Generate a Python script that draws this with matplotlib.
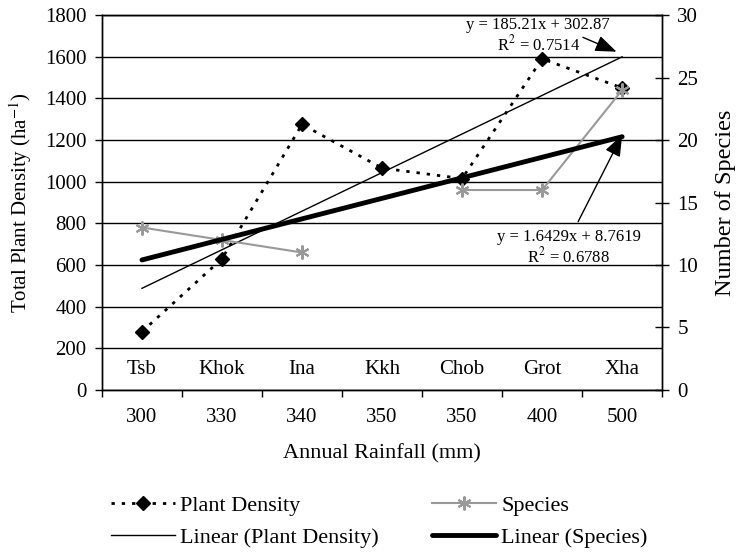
import matplotlib
matplotlib.use("Agg")
import matplotlib.pyplot as plt
import numpy as np

# ---------------------------------------------------------------------------
# DATA
# ---------------------------------------------------------------------------
sites = ["Tsb", "Khok", "Ina", "Kkh", "Chob", "Grot", "Xha"]
rainfall = ["300", "330", "340", "350", "350", "400", "500"]
plant_density = [280, 630, 1275, 1065, 1015, 1590, 1450]
species = [13, 12, 11, np.nan, 16, 16, 24]

# trend line coefficients (as shown on chart)
pd_slope, pd_icpt = 185.21, 302.87
sp_slope, sp_icpt = 1.6429, 8.7619

plt.rcParams["font.family"] = ["Liberation Serif", "DejaVu Serif"]
plt.rcParams["font.size"] = 15
plt.rcParams["mathtext.fontset"] = "stix"

fig = plt.figure(figsize=(7.39, 5.53), dpi=100)
ax = fig.add_axes([0.138, 0.2948, 0.758, 0.678])
ax2 = ax.twinx()

x = np.arange(1, len(sites) + 1)

# ejes y gridlines (eje izquierdo)
ax.set_ylim(0, 1800)
ax.set_yticks(np.arange(0, 1801, 200))
ax.yaxis.grid(True, color="black", linewidth=1)
ax.set_axisbelow(True)
ax2.set_ylim(0, 30)
ax2.set_yticks(np.arange(0, 31, 5))

ax.set_xlim(0.5, len(sites) + 0.5)
ax.set_xticks(np.arange(0.5, len(sites) + 1, 1))
ax.set_xticklabels([])
ax.set_xticks(x, minor=True)
ax.set_xticklabels(rainfall, minor=True)
ax.tick_params(axis="x", which="major", direction="out", length=5, width=1)
ax.tick_params(axis="x", which="minor", length=0, pad=13)
ax.tick_params(axis="y", direction="out", length=5, width=1, pad=6)
ax2.tick_params(axis="y", direction="inout", length=10, width=1, pad=6)

for a in (ax, ax2):
    for s in a.spines.values():
        s.set_color("black")
        s.set_linewidth(1)

# series
l_pd, = ax.plot(x, plant_density, color="black", linestyle=(0, (1.2, 2.5)),
                linewidth=2, marker="D", markersize=7.5, label="Plant Density")
xt = np.array([1, len(sites)])
l_pdt, = ax.plot(xt, pd_slope * xt + pd_icpt, color="black", linewidth=1,
                 label="Linear (Plant Density)")
l_sp, = ax2.plot(x, species, color="#999999", linewidth=1.5, marker=(6, 2, 0),
                 markersize=10, markeredgewidth=1.5, label="Species")
l_spt, = ax2.plot(xt, sp_slope * xt + sp_icpt, color="black", linewidth=3.5,
                  solid_capstyle="round", label="Linear (Species)")

# nombres de sitio dentro del grafico
for xi, name in zip(x, sites):
    ax.text(xi, 96, name, ha="center", va="center")

# ecuaciones con flechas
arrow = dict(arrowstyle="-|>,head_length=1.3,head_width=0.5", color="black",
             linewidth=1, shrinkA=0, shrinkB=0, mutation_scale=10)
ax.text(5.95, 1699, "y = 185.21x + 302.87\nR$^2$ = 0.7514", ha="center",
        va="center", fontsize=12, linespacing=1.1)
ax.annotate("", xy=(6.93, 1624), xytext=(6.51, 1693), arrowprops=arrow)
ax.text(6.33, 684, "y = 1.6429x + 8.7619\nR$^2$ = 0.6788", ha="center",
        va="center", fontsize=12, linespacing=1.1)
ax.annotate("", xy=(7.0, 1224), xytext=(6.45, 808), arrowprops=arrow)

ax.set_ylabel("Total Plant Density (ha$^{-1}$)", fontsize=15, labelpad=8)
ax2.set_ylabel("Number of Species", fontsize=17.5, labelpad=12)
ax.set_xlabel("Annual Rainfall (mm)", fontsize=16, labelpad=12)

fig.legend(handles=[l_pd, l_pdt, l_sp, l_spt], loc="center",
           bbox_to_anchor=(0.513, 0.057), ncol=2, frameon=False,
           handlelength=2.9, handletextpad=0.22, columnspacing=2.4,
           labelspacing=0.5, fontsize=16)

fig.savefig("out.png", dpi=100)
